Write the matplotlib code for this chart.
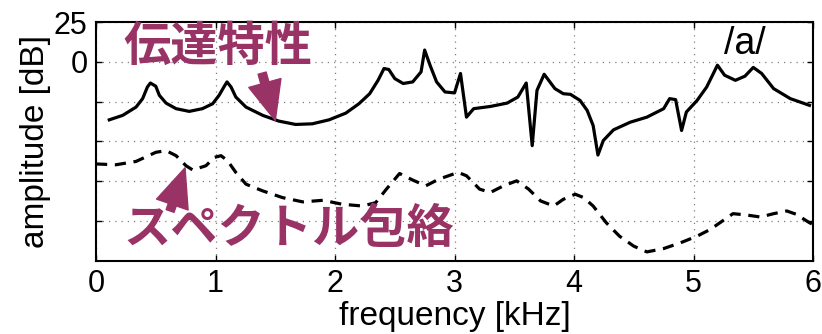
import numpy as np
import matplotlib
matplotlib.use('Agg')
import matplotlib.pyplot as plt

# transfer characteristic (solid)
tf_freq = [0.111, 0.223, 0.335, 0.39, 0.43, 0.455, 0.50, 0.53, 0.586, 0.67, 0.78, 0.89,
           0.976, 1.03, 1.07, 1.096, 1.13, 1.17, 1.255, 1.395, 1.53, 1.67, 1.81, 1.95,
           2.09, 2.20, 2.29, 2.36, 2.41, 2.45, 2.50, 2.57, 2.65, 2.72, 2.75, 2.795,
           2.85, 2.92, 3.00, 3.05, 3.10, 3.16, 3.30, 3.44, 3.53, 3.60, 3.65, 3.69,
           3.75, 3.84, 3.91, 3.97, 4.05, 4.11, 4.16, 4.20, 4.245, 4.33, 4.47, 4.61,
           4.75, 4.80, 4.85, 4.90, 4.94, 5.03, 5.11, 5.20, 5.26, 5.35, 5.43, 5.50,
           5.57, 5.67, 5.81, 5.97]
tf_db = [-36.4, -33.6, -28.4, -23.1, -15.8, -13.3, -15.3, -21.0, -25.9, -29.4, -31.1, -29.4,
         -26.3, -21.0, -15.8, -12.6, -15.8, -22.1, -28.4, -33.6, -37.2, -39.3, -38.9, -36.4,
         -32.2, -26.3, -20.0, -11.6, -4.2, -4.8, -10.5, -13.6, -12.6, -6.3, 7.4, -2.1,
         -12.6, -18.9, -19.5, -7.3, -34.7, -29.4, -28.0, -25.9, -22.1, -13.3, -52.6, -17.9,
         -7.8, -16.8, -20.0, -20.4, -24.2, -30.5, -40.0, -58.5, -49.4, -42.7, -37.9, -34.7,
         -29.4, -23.1, -23.7, -43.1, -31.5, -24.2, -15.8, -2.1, -8.4, -11.6, -9.0, -3.5,
         -7.3, -16.8, -23.1, -27.3]

# spectral envelope (dashed)
env_freq = [0.00, 0.167, 0.335, 0.50, 0.586, 0.67, 0.753, 0.81, 0.92, 0.99, 1.046, 1.10,
            1.17, 1.255, 1.395, 1.56, 1.73, 1.90, 2.06, 2.23, 2.34, 2.43, 2.54, 2.65,
            2.76, 2.87, 3.03, 3.10, 3.21, 3.30, 3.41, 3.52, 3.62, 3.72, 3.83, 3.91,
            4.01, 4.08, 4.16, 4.27, 4.38, 4.50, 4.61, 4.75, 4.89, 5.03, 5.14, 5.24,
            5.33, 5.44, 5.56, 5.67, 5.78, 5.86, 5.97, 6.00]
env_db = [-64.1, -64.6, -62.5, -56.8, -55.7, -58.9, -65.2, -67.9, -65.2, -60.0, -58.9, -62.0,
          -69.4, -76.8, -81.0, -85.2, -87.9, -86.9, -89.4, -90.5, -88.4, -79.9, -70.1, -74.2,
          -77.8, -73.6, -69.4, -71.5, -79.9, -82.0, -77.8, -74.7, -79.9, -87.3, -90.5, -86.3,
          -83.1, -85.2, -90.5, -101.0, -109.4, -115.7, -119.3, -117.2, -113.6, -109.4, -105.2, -100.0,
          -95.3, -96.1, -97.4, -95.3, -93.6, -95.7, -101.0, -102.0]

x_ticks = [0, 1, 2, 3, 4, 5, 6]
y_ticks = [-100, -75, -50, -25, 0, 25]
y_tick_labels = ['', '', '', '', '0', '25']

purple = '#993366'
latin = 'Liberation Sans'
cjk = ['Noto Sans CJK JP', 'DejaVu Sans']

fig = plt.figure(figsize=(8.22, 3.34), dpi=100)
ax = fig.add_axes([0.1168, 0.2186, 0.8723, 0.7155])

ax.plot(tf_freq, tf_db, color='black', lw=2.3, solid_joinstyle='round')
ax.plot(env_freq, env_db, color='black', lw=2.3, dashes=(3.5, 2.4))

ax.set_xlim(0, 6)
ax.set_ylim(-125, 25)
ax.set_xticks(x_ticks)
ax.set_yticks(y_ticks)
ax.set_yticklabels(y_tick_labels)
ax.grid(True, color='#808080', linestyle=(0, (1, 4)), lw=0.9)
ax.tick_params(direction='in', length=4.5, width=1.0, top=True, right=True,
               labelsize=22, pad=6)
for lab in ax.get_xticklabels() + ax.get_yticklabels():
    lab.set_fontfamily(latin)
for sp in ax.spines.values():
    sp.set_linewidth(1.5)

ax.set_xlabel('frequency [kHz]', fontsize=24, family=latin, labelpad=1)
ax.set_ylabel('amplitude [dB]', fontsize=24, family=latin, labelpad=2)

ax.text(1.02, 9.3, '伝達特性', color=purple, fontsize=34, fontweight='bold',
        family=cjk, ha='center', va='center')
ax.text(1.61, -105, 'スペクトル包絡', color=purple, fontsize=34, fontweight='bold',
        family=cjk, ha='center', va='center')
ax.text(5.43, 11, '/a/', color='black', fontsize=27, family=latin,
        ha='center', va='center')

arrow = dict(arrowstyle='simple,head_length=2.8,head_width=2.4,tail_width=0.6',
             color=purple, mutation_scale=10, shrinkA=0, shrinkB=0)
ax.annotate('', xy=(1.50, -36.8), xytext=(1.39, -7.1), arrowprops=arrow)
ax.annotate('', xy=(0.745, -66.5), xytext=(0.62, -93.6), arrowprops=arrow)

fig.savefig('out.png', dpi=100)
